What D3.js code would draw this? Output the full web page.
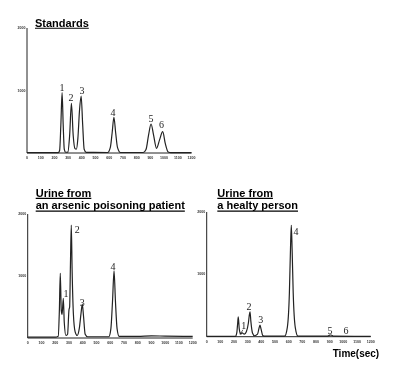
<!DOCTYPE html>
<html>
<head>
<meta charset="utf-8">
<script src="https://cdn.jsdelivr.net/npm/d3@7"></script>
<style>
  html, body { margin: 0; padding: 0; background: #fff; }
  svg { display: block; will-change: transform; }
</style>
</head>
<body>
<div id="chart"></div>
<script>
// x ticks (sec) and y ticks (counts)
const xTicks = [0, 100, 200, 300, 400, 500, 600, 700, 800, 900, 1000, 1100, 1200];
const yTicks = [1000, 2000];

// traces: [time, signal]
const standardsTrace = [
  [0, 5], [228, 5], [238, 40], [247, 450], [256, 965], [264, 450], [272, 60], [282, 12],
  [298, 15], [311, 280], [324, 795], [337, 280], [350, 70], [360, 60], [371, 230],
  [383, 680], [395, 912], [406, 460], [417, 60], [432, 10], [588, 8], [608, 90],
  [621, 320], [634, 571], [647, 320], [660, 90], [682, 8], [848, 8], [868, 55],
  [887, 290], [905, 464], [923, 290], [945, 75], [967, 210], [990, 341], [1009, 150],
  [1030, 15], [1050, 5], [1200, 5]
];
const patientTrace = [
  [0, 15], [200, 15], [222, 30], [230, 420], [237, 1043], [244, 450], [250, 380],
  [259, 640], [266, 250], [278, 40], [290, 60], [300, 450], [305, 500], [311, 1200],
  [317, 1822], [323, 1100], [332, 400], [345, 100], [360, 40], [375, 150], [388, 400],
  [397, 548], [406, 350], [418, 60], [435, 20], [590, 20], [605, 150], [617, 600],
  [628, 1085], [638, 600], [650, 150], [665, 25], [800, 25], [900, 35], [1000, 30], [1200, 25]
];
const healthyTrace = [
  [0, 5], [210, 5], [220, 60], [226, 200], [231, 320], [238, 130], [248, 50], [260, 60],
  [275, 40], [290, 80], [305, 220], [312, 350], [317, 400], [323, 250], [335, 60],
  [350, 15], [372, 40], [382, 130], [390, 187], [398, 120], [410, 20], [425, 8],
  [570, 8], [590, 150], [605, 700], [613, 1400], [619, 1787], [625, 1400], [633, 700],
  [648, 150], [668, 8], [880, 8], [900, 25], [910, 27], [925, 10], [1200, 5]
];

// peak numbers: [label, time, signal]
const standardsLabels = [["1", 256, 1051], ["2", 321, 885], ["3", 401, 1008], ["4", 627, 656], ["5", 905, 555], ["6", 982, 453]];
const patientLabels = [["2", 361, 1753], ["1", 279, 710], ["3", 397, 565], ["4", 620, 1150]];
const healthyLabels = [["1", 271, 183], ["2", 310, 481], ["3", 395, 273], ["4", 653, 1684], ["5", 902, 103], ["6", 1019, 96]];

const titles1 = ["Standards"];
const titles2 = ["Urine from ", "an arsenic poisoning patient"];
const titles3 = ["Urine from ", "a healty person"];

const W = 396, H = 368;
const svg = d3.select("#chart").append("svg").attr("width", W).attr("height", H);

const ink = "#222";

function drawPanel(p) {
  const x = d3.scaleLinear().domain([0, 1200]).range([p.x0, p.x1]);
  const y = d3.scaleLinear().domain([0, 2000]).range([p.y0, p.yTop]);
  const g = svg.append("g");

  // axes
  g.append("line").attr("x1", x(0)).attr("x2", x(0)).attr("y1", y(0)).attr("y2", y(2000))
    .attr("stroke", ink).attr("stroke-width", 1);
  g.append("line").attr("x1", x(0)).attr("x2", x(1200)).attr("y1", y(0)).attr("y2", y(0))
    .attr("stroke", ink).attr("stroke-width", 1);

  g.selectAll(".xt").data(xTicks).join("text")
    .attr("x", d => x(d)).attr("y", y(0) + 5)
    .attr("text-anchor", "middle").attr("dominant-baseline", "central")
    .attr("font-family", "Liberation Sans, Arial, sans-serif").attr("font-size", 3.6)
    .attr("font-weight", "bold").attr("fill", "#333").text(d => d);

  g.selectAll(".yt").data(yTicks).join("text")
    .attr("x", x(0) - 1.5).attr("y", d => y(d))
    .attr("text-anchor", "end").attr("dominant-baseline", "central")
    .attr("font-family", "Liberation Sans, Arial, sans-serif").attr("font-size", 3.6)
    .attr("font-weight", "bold").attr("fill", "#333").text(d => d);

  // trace
  const line = d3.line().x(d => x(d[0])).y(d => y(d[1])).curve(d3.curveMonotoneX);
  g.append("path").datum(p.trace).attr("d", line)
    .attr("fill", "none").attr("stroke", ink).attr("stroke-width", 1.2);

  // peak numbers
  g.selectAll(".pk").data(p.labels).join("text")
    .attr("x", d => x(d[1])).attr("y", d => y(d[2]))
    .attr("text-anchor", "middle").attr("dominant-baseline", "central")
    .attr("font-family", "Liberation Serif, Times New Roman, serif").attr("font-size", 10)
    .attr("fill", ink).text(d => d[0]);

  // titles, underlined
  p.titles.forEach((t, i) => {
    const ty = p.titleY + i * 12.7;
    const txt = g.append("text").attr("x", p.titleX).attr("y", ty)
      .attr("font-family", "Liberation Sans, Arial, sans-serif").attr("font-size", 11)
      .attr("font-weight", "bold").attr("fill", "#000").text(t);
    const len = txt.node().getComputedTextLength();
    g.append("line").attr("x1", p.titleX).attr("x2", p.titleX + len)
      .attr("y1", ty + 1.8).attr("y2", ty + 1.8).attr("stroke", "#000").attr("stroke-width", 1.1);
  });
  return { x, y, g };
}

drawPanel({ x0: 27, x1: 191.5, y0: 153, yTop: 28, trace: standardsTrace, labels: standardsLabels,
  titles: titles1, titleX: 35, titleY: 26.5 });
drawPanel({ x0: 27.7, x1: 192.7, y0: 338, yTop: 214, trace: patientTrace, labels: patientLabels,
  titles: titles2, titleX: 35.7, titleY: 196.6 });
const p3 = drawPanel({ x0: 206.7, x1: 370.7, y0: 336.7, yTop: 212, trace: healthyTrace, labels: healthyLabels,
  titles: titles3, titleX: 217.3, titleY: 196.6 });

// little arrow under peak 1 of the healthy person
p3.g.append("path")
  .attr("d", `M${p3.x(265)},${p3.y(110)} L${p3.x(245)},${p3.y(40)} M${p3.x(245)},${p3.y(40)} l1.8,-0.4 M${p3.x(245)},${p3.y(40)} l0.2,-1.8`)
  .attr("fill", "none").attr("stroke", ink).attr("stroke-width", 0.7);

svg.append("text").attr("x", 332.7).attr("y", 356.7)
  .attr("font-family", "Liberation Sans, Arial, sans-serif").attr("font-size", 10)
  .attr("font-weight", "bold").attr("fill", "#000").text("Time(sec)");
</script>
</body>
</html>
